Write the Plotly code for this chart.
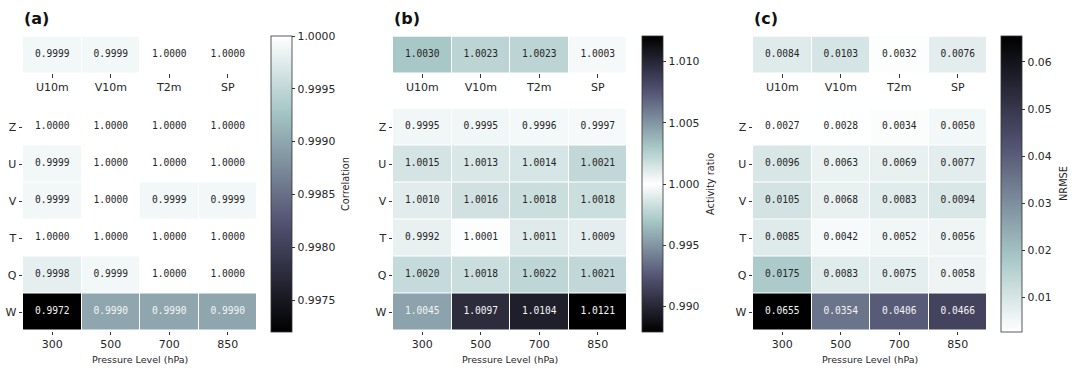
import plotly.graph_objects as go

# ---------------- data ----------------
levels = ['300', '500', '700', '850']
surface_vars = ['U10m', 'V10m', 'T2m', 'SP']
upper_vars = ['Z', 'U', 'V', 'T', 'Q', 'W']

corr_surface = [0.9999, 0.9999, 1.0000, 1.0000]
corr_upper = [
    [1.0000, 1.0000, 1.0000, 1.0000],
    [0.9999, 1.0000, 1.0000, 1.0000],
    [0.9999, 1.0000, 0.9999, 0.9999],
    [1.0000, 1.0000, 1.0000, 1.0000],
    [0.9998, 0.9999, 1.0000, 1.0000],
    [0.9972, 0.9990, 0.9990, 0.9990],
]
corr_range = [0.9972, 1.0000]
corr_ticks = [0.9975, 0.9980, 0.9985, 0.9990, 0.9995, 1.0000]

act_surface = [1.0030, 1.0023, 1.0023, 1.0003]
act_upper = [
    [0.9995, 0.9995, 0.9996, 0.9997],
    [1.0015, 1.0013, 1.0014, 1.0021],
    [1.0010, 1.0016, 1.0018, 1.0018],
    [0.9992, 1.0001, 1.0011, 1.0009],
    [1.0020, 1.0018, 1.0022, 1.0021],
    [1.0045, 1.0097, 1.0104, 1.0121],
]
act_range = [0.9879, 1.0121]
act_ticks = [0.990, 0.995, 1.000, 1.005, 1.010]

nrmse_surface = [0.0084, 0.0103, 0.0032, 0.0076]
nrmse_upper = [
    [0.0027, 0.0028, 0.0034, 0.0050],
    [0.0096, 0.0063, 0.0069, 0.0077],
    [0.0105, 0.0068, 0.0083, 0.0094],
    [0.0085, 0.0042, 0.0052, 0.0056],
    [0.0175, 0.0083, 0.0075, 0.0058],
    [0.0655, 0.0354, 0.0406, 0.0466],
]
nrmse_range = [0.0027, 0.0655]
nrmse_ticks = [0.01, 0.02, 0.03, 0.04, 0.05, 0.06]

panel_labels = ['(a)', '(b)', '(c)']
cbar_titles = ['Correlation', 'Activity ratio', 'NRMSE']
xlabel = 'Pressure Level (hPa)'

# ---------------- colour maps ----------------
BONE = [(0.0, (0.0, 0.0, 0.0)),
        (0.365079, (81.46, 81.46, 113.33)),
        (0.746032, (166.46, 198.33, 198.33)),
        (1.0, (255.0, 255.0, 255.0))]
BONE_R = [(1 - t, c) for t, c in reversed(BONE)]
DIVERGE = [(t * 0.5, c) for t, c in BONE] + [(0.5 + t * 0.5, c) for t, c in BONE_R][1:]


def to_plotly(stops):
    return [[t, 'rgb(%d,%d,%d)' % tuple(round(v) for v in c)] for t, c in stops]


def sample(stops, t):
    t = min(max(t, 0.0), 1.0)
    for (t0, c0), (t1, c1) in zip(stops[:-1], stops[1:]):
        if t0 <= t <= t1:
            f = 0 if t1 == t0 else (t - t0) / (t1 - t0)
            return tuple(a + (b - a) * f for a, b in zip(c0, c1))
    return stops[-1][1]


def lum(rgb):
    out = []
    for v in rgb:
        v = v / 255.0
        out.append(v / 12.92 if v <= 0.03928 else ((v + 0.055) / 1.055) ** 2.4)
    return 0.2126 * out[0] + 0.7152 * out[1] + 0.0722 * out[2]


def text_color(stops, val, rng):
    c = sample(stops, (val - rng[0]) / (rng[1] - rng[0]))
    return '#262626' if lum(c) > 0.408 else '#f4f4f4'


# ---------------- layout geometry (px) ----------------
W, H = 1080, 368
fx = lambda p: p / W
fy = lambda p: 1 - p / H

panels = [
    dict(surf=corr_surface, up=corr_upper, rng=corr_range, ticks=corr_ticks, fmt='.4f',
         cs=BONE, x0=23, x1=257, cbx=271, cbt=345),
    dict(surf=act_surface, up=act_upper, rng=act_range, ticks=act_ticks, fmt='.3f',
         cs=DIVERGE, x0=393, x1=627, cbx=642, cbt=710),
    dict(surf=nrmse_surface, up=nrmse_upper, rng=nrmse_range, ticks=nrmse_ticks, fmt='.2f',
         cs=BONE_R, x0=753, x1=987, cbx=1001, cbt=1063),
]

TOP_Y = (36.5, 73)
MAIN_Y = (108.5, 330.5)
CB_Y = (36, 332)

LABEL_FONT = dict(family='DejaVu Sans', size=11, color='#262626')
CELL_FONT = 'DejaVu Sans Mono'

fig = go.Figure()
layout = dict(width=W, height=H, margin=dict(l=0, r=0, t=0, b=0),
              paper_bgcolor='white', plot_bgcolor='white', showlegend=False,
              annotations=[])

for i, p in enumerate(panels):
    ai_top = 2 * i + 1
    ai_main = 2 * i + 2
    xa_t = 'x' if ai_top == 1 else 'x%d' % ai_top
    ya_t = 'y' if ai_top == 1 else 'y%d' % ai_top
    xa_m = 'x%d' % ai_main
    ya_m = 'y%d' % ai_main
    cscale = to_plotly(p['cs'])

    # top (surface) heatmap
    fig.add_trace(go.Heatmap(
        z=[p['surf']], x=surface_vars, y=['surface'], xaxis=xa_t, yaxis=ya_t,
        colorscale=cscale, zmin=p['rng'][0], zmax=p['rng'][1], showscale=False,
        xgap=1, ygap=1, hoverinfo='skip'))
    fig.add_trace(go.Scatter(
        x=surface_vars, y=['surface'] * len(surface_vars), xaxis=xa_t, yaxis=ya_t,
        mode='text', text=['%.4f' % v for v in p['surf']],
        textfont=dict(family=CELL_FONT, size=9.6,
                      color=[text_color(p['cs'], v, p['rng']) for v in p['surf']]),
        hoverinfo='skip'))

    # main heatmap
    fig.add_trace(go.Heatmap(
        z=p['up'], x=levels, y=upper_vars, xaxis=xa_m, yaxis=ya_m,
        colorscale=cscale, zmin=p['rng'][0], zmax=p['rng'][1], showscale=True,
        xgap=1, ygap=1, hoverinfo='skip',
        colorbar=dict(x=fx(p['cbx']), xanchor='left', xpad=0, ypad=0,
                      y=fy((CB_Y[0] + CB_Y[1]) / 2), yanchor='middle',
                      len=(CB_Y[1] - CB_Y[0]) / H, lenmode='fraction',
                      thickness=20.5, thicknessmode='pixels',
                      outlinewidth=0.8, outlinecolor='#333',
                      tickvals=p['ticks'], tickformat=p['fmt'],
                      ticks='outside', ticklen=3.5, tickwidth=0.8, tickcolor='#333',
                      tickfont=dict(family='DejaVu Sans', size=10.8, color='#262626'))))
    xs, ys, ts, cs = [], [], [], []
    for r, row in enumerate(p['up']):
        for c, v in enumerate(row):
            xs.append(levels[c])
            ys.append(upper_vars[r])
            ts.append('%.4f' % v)
            cs.append(text_color(p['cs'], v, p['rng']))
    fig.add_trace(go.Scatter(
        x=xs, y=ys, xaxis=xa_m, yaxis=ya_m, mode='text', text=ts,
        textfont=dict(family=CELL_FONT, size=9.6, color=cs), hoverinfo='skip'))

    xdom = [fx(p['x0']), fx(p['x1'])]
    layout['xaxis' if ai_top == 1 else 'xaxis%d' % ai_top] = dict(
        domain=xdom, anchor=ya_t, type='category', showgrid=False, zeroline=False,
        ticks='outside', ticklen=3.5, tickwidth=0.8, tickcolor='#333',
        tickfont=LABEL_FONT, showline=False)
    layout['yaxis' if ai_top == 1 else 'yaxis%d' % ai_top] = dict(
        domain=[fy(TOP_Y[1]), fy(TOP_Y[0])], anchor=xa_t, type='category',
        showgrid=False, zeroline=False, showticklabels=False, ticks='', showline=False)
    layout['xaxis%d' % ai_main] = dict(
        domain=xdom, anchor=ya_m, type='category', showgrid=False, zeroline=False,
        ticks='outside', ticklen=3.5, tickwidth=0.8, tickcolor='#333',
        tickfont=LABEL_FONT, showline=False)
    layout['yaxis%d' % ai_main] = dict(
        domain=[fy(MAIN_Y[1]), fy(MAIN_Y[0])], anchor=xa_m, type='category',
        autorange='reversed', showgrid=False, zeroline=False,
        ticks='outside', ticklen=3.5, tickwidth=0.8, tickcolor='#333',
        tickfont=LABEL_FONT, showline=False)

    # panel label
    layout['annotations'].append(dict(
        text='<b>%s</b>' % panel_labels[i], xref='paper', yref='paper',
        x=fx(p['x0'] - 1), y=fy(19), xanchor='left', yanchor='middle', showarrow=False,
        font=dict(family='DejaVu Sans', size=16, color='#111')))
    # x label
    layout['annotations'].append(dict(
        text=xlabel, xref='paper', yref='paper',
        x=fx((p['x0'] + p['x1']) / 2), y=fy(359), xanchor='center', yanchor='middle',
        showarrow=False, font=dict(family='DejaVu Sans', size=9.5, color='#262626')))
    # colorbar title
    layout['annotations'].append(dict(
        text=cbar_titles[i], xref='paper', yref='paper', textangle=-90,
        x=fx(p['cbt']), y=fy(184), xanchor='center', yanchor='middle',
        showarrow=False, font=dict(family='DejaVu Sans', size=9.8, color='#262626')))

fig.update_layout(**layout)
fig.write_html('out.html')
